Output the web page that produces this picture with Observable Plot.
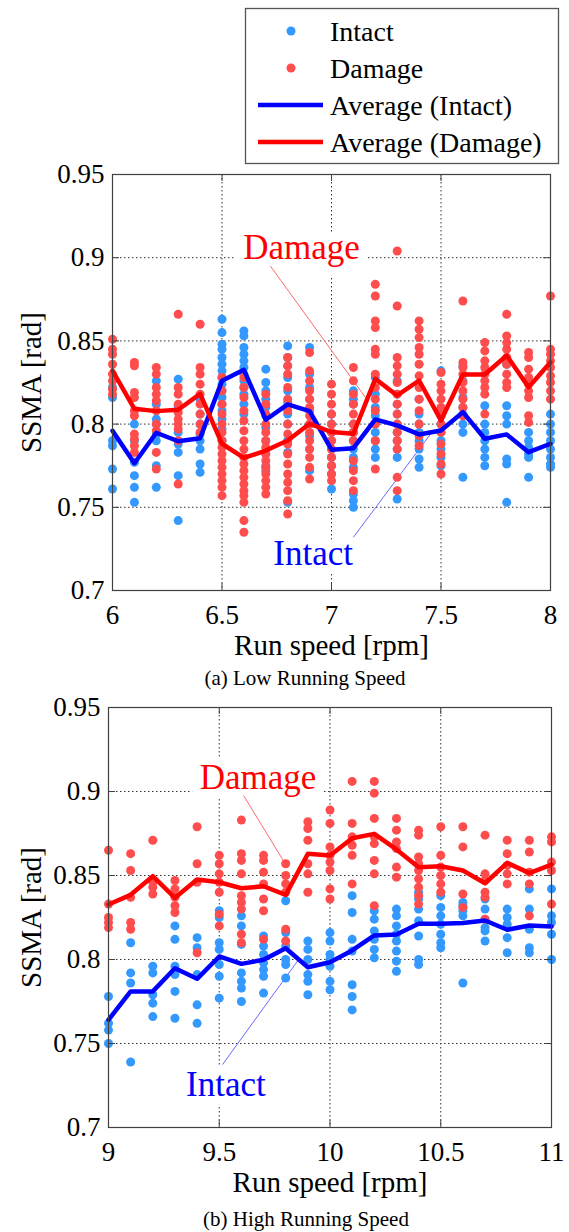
<!DOCTYPE html>
<html><head><meta charset="utf-8">
<script src="https://cdn.jsdelivr.net/npm/d3@7"></script>
<script src="https://cdn.jsdelivr.net/npm/@observablehq/plot@0.6"></script>
<style>
body{margin:0;background:#fff;}
#page{position:relative;width:569px;height:1232px;overflow:hidden;font-family:"Liberation Serif","Times New Roman",serif;}
#page > div{position:absolute;}
.cap{font-size:21px;line-height:21px;text-align:center;width:400px;color:#000;}
</style></head><body><div id="page"></div>
<script>
// ---------- DATA ----------
const seriesNames = ["Intact", "Damage", "Average (Intact)", "Average (Damage)"];
const yTicks = [0.7, 0.75, 0.8, 0.85, 0.9, 0.95];

// (a) Low running speed
const speedsLow = [6, 6.1, 6.2, 6.3, 6.4, 6.5, 6.6, 6.7, 6.8, 6.9, 7, 7.1, 7.2, 7.3, 7.4, 7.5, 7.6, 7.7, 7.8, 7.9, 8];
const xTicksLow = [6, 6.5, 7, 7.5, 8];
const intactLow = [
  [0.822, 0.816, 0.790, 0.787, 0.773, 0.761],
  [0.800, 0.790, 0.777, 0.769, 0.762, 0.753],
  [0.826, 0.812, 0.803, 0.800, 0.794, 0.790, 0.775, 0.762],
  [0.827, 0.811, 0.795, 0.788, 0.783, 0.769, 0.742],
  [0.815, 0.806, 0.800, 0.794, 0.790, 0.785, 0.776, 0.771],
  [0.863, 0.855, 0.848, 0.845, 0.840, 0.836, 0.832, 0.828, 0.824, 0.820, 0.816, 0.812, 0.808, 0.803, 0.797, 0.790],
  [0.856, 0.853, 0.846, 0.842, 0.838, 0.834, 0.830, 0.826, 0.822, 0.818, 0.812, 0.806],
  [0.833, 0.825, 0.820, 0.815, 0.810, 0.805, 0.798, 0.790, 0.782, 0.775, 0.772],
  [0.847, 0.840, 0.835, 0.828, 0.820, 0.813, 0.806, 0.800, 0.790, 0.783, 0.753],
  [0.846, 0.830, 0.822, 0.815, 0.808, 0.800, 0.793, 0.785, 0.772],
  [0.806, 0.800, 0.795, 0.790, 0.785, 0.780, 0.775, 0.770, 0.761],
  [0.820, 0.815, 0.812, 0.800, 0.795, 0.790, 0.785, 0.780, 0.774, 0.758, 0.754, 0.750],
  [0.828, 0.818, 0.810, 0.805, 0.800, 0.795, 0.790, 0.785, 0.780],
  [0.826, 0.818, 0.812, 0.806, 0.800, 0.795, 0.790, 0.785, 0.780, 0.755],
  [0.815, 0.806, 0.800, 0.795, 0.790, 0.785, 0.779, 0.774],
  [0.832, 0.806, 0.800, 0.795, 0.790, 0.785, 0.780, 0.775],
  [0.835, 0.826, 0.816, 0.810, 0.806, 0.800, 0.795, 0.768],
  [0.811, 0.800, 0.795, 0.790, 0.785, 0.780, 0.775],
  [0.836, 0.811, 0.805, 0.800, 0.779, 0.776, 0.753],
  [0.795, 0.790, 0.786, 0.782, 0.780, 0.768],
  [0.806, 0.800, 0.795, 0.790, 0.785, 0.780, 0.776, 0.774]
];
const damageLow = [
  [0.851, 0.845, 0.842, 0.836, 0.830, 0.826, 0.821, 0.818],
  [0.837, 0.835, 0.819, 0.816, 0.808, 0.805, 0.794, 0.791, 0.787, 0.783],
  [0.834, 0.830, 0.822, 0.818, 0.814, 0.808, 0.800, 0.796, 0.783, 0.773],
  [0.866, 0.822, 0.818, 0.812, 0.807, 0.803, 0.800, 0.797, 0.790, 0.764],
  [0.860, 0.834, 0.830, 0.824, 0.818, 0.812, 0.806, 0.800, 0.795],
  [0.828, 0.820, 0.812, 0.806, 0.800, 0.795, 0.790, 0.786, 0.782, 0.778, 0.774, 0.770, 0.766, 0.762, 0.757],
  [0.828, 0.822, 0.816, 0.808, 0.802, 0.796, 0.790, 0.785, 0.780, 0.776, 0.772, 0.768, 0.764, 0.760, 0.757, 0.753, 0.742, 0.735],
  [0.818, 0.812, 0.806, 0.800, 0.795, 0.790, 0.786, 0.782, 0.778, 0.774, 0.770, 0.766, 0.762, 0.758],
  [0.840, 0.835, 0.830, 0.822, 0.815, 0.808, 0.800, 0.794, 0.788, 0.782, 0.776, 0.770, 0.765, 0.760, 0.754, 0.746],
  [0.843, 0.832, 0.826, 0.820, 0.815, 0.810, 0.805, 0.800, 0.795, 0.790, 0.785, 0.780, 0.774, 0.767],
  [0.824, 0.818, 0.812, 0.806, 0.800, 0.795, 0.790, 0.785, 0.780, 0.775, 0.770, 0.766],
  [0.834, 0.826, 0.818, 0.812, 0.806, 0.800, 0.795, 0.790, 0.778, 0.772, 0.766, 0.760],
  [0.884, 0.877, 0.862, 0.858, 0.845, 0.842, 0.830, 0.822, 0.815, 0.808, 0.800, 0.790, 0.773],
  [0.904, 0.871, 0.840, 0.835, 0.830, 0.825, 0.818, 0.812, 0.806, 0.800, 0.795, 0.790, 0.785, 0.768, 0.760],
  [0.862, 0.857, 0.852, 0.846, 0.842, 0.836, 0.829, 0.822, 0.815, 0.808, 0.800, 0.793, 0.787],
  [0.831, 0.824, 0.820, 0.815, 0.810, 0.805, 0.800, 0.795, 0.788, 0.782, 0.776, 0.770],
  [0.874, 0.837, 0.834, 0.830, 0.825, 0.820, 0.815, 0.810, 0.805],
  [0.849, 0.844, 0.838, 0.834, 0.830, 0.826, 0.822, 0.818, 0.806],
  [0.866, 0.853, 0.849, 0.845, 0.840, 0.836, 0.830, 0.825, 0.822],
  [0.843, 0.840, 0.833, 0.828, 0.824, 0.820, 0.816, 0.805, 0.801],
  [0.877, 0.845, 0.842, 0.838, 0.834, 0.829, 0.825, 0.820, 0.815]
];
const avgIntactLow = [0.796, 0.7765, 0.7948, 0.7897, 0.7915, 0.826, 0.8326, 0.8026, 0.8118, 0.8078, 0.7846, 0.7855, 0.8028, 0.7992, 0.7938, 0.7962, 0.8072, 0.7912, 0.7938, 0.7831, 0.7882];
const avgDamageLow = [0.8322, 0.8092, 0.8078, 0.8086, 0.8182, 0.7882, 0.7797, 0.7841, 0.7901, 0.8002, 0.7952, 0.7942, 0.8272, 0.8172, 0.8262, 0.8022, 0.8298, 0.8298, 0.8412, 0.8222, 0.8372];

// (b) High running speed
const speedsHigh = [9, 9.1, 9.2, 9.3, 9.4, 9.5, 9.6, 9.7, 9.8, 9.9, 10, 10.1, 10.2, 10.3, 10.4, 10.5, 10.6, 10.7, 10.8, 10.9, 11];
const xTicksHigh = [9, 9.5, 10, 10.5, 11];
const intactHigh = [
  [0.778, 0.762, 0.758, 0.750],
  [0.810, 0.792, 0.786, 0.739],
  [0.796, 0.792, 0.779, 0.774, 0.766],
  [0.820, 0.812, 0.796, 0.791, 0.781, 0.765],
  [0.813, 0.807, 0.791, 0.773, 0.762],
  [0.829, 0.825, 0.810, 0.806, 0.797, 0.790, 0.777],
  [0.826, 0.820, 0.809, 0.792, 0.787, 0.783, 0.775],
  [0.814, 0.808, 0.803, 0.798, 0.794, 0.790, 0.780],
  [0.835, 0.816, 0.808, 0.800, 0.797, 0.789],
  [0.811, 0.806, 0.800, 0.791, 0.787, 0.779],
  [0.816, 0.811, 0.803, 0.800, 0.796, 0.787, 0.782],
  [0.838, 0.828, 0.812, 0.805, 0.785, 0.778, 0.770],
  [0.829, 0.824, 0.817, 0.812, 0.806, 0.801],
  [0.830, 0.826, 0.820, 0.815, 0.811, 0.805, 0.799, 0.793],
  [0.840, 0.836, 0.830, 0.823, 0.814, 0.800, 0.797],
  [0.838, 0.831, 0.826, 0.821, 0.815, 0.810, 0.807],
  [0.834, 0.832, 0.829, 0.826, 0.786],
  [0.836, 0.830, 0.824, 0.819, 0.817, 0.811],
  [0.830, 0.825, 0.821, 0.813, 0.804],
  [0.842, 0.830, 0.818, 0.807, 0.804],
  [0.842, 0.826, 0.822, 0.815, 0.800]
];
const damageHigh = [
  [0.865, 0.833, 0.825, 0.822, 0.819],
  [0.863, 0.853, 0.837, 0.822, 0.818],
  [0.871, 0.846, 0.843, 0.839],
  [0.847, 0.842, 0.837, 0.832, 0.828],
  [0.879, 0.857, 0.846, 0.804],
  [0.862, 0.857, 0.851, 0.846, 0.840, 0.827, 0.820],
  [0.883, 0.863, 0.859, 0.851, 0.838, 0.834, 0.830, 0.815, 0.810],
  [0.862, 0.859, 0.852, 0.845, 0.836, 0.829, 0.812],
  [0.857, 0.850, 0.845, 0.840, 0.818, 0.811],
  [0.882, 0.878, 0.871, 0.857, 0.851, 0.840],
  [0.889, 0.881, 0.867, 0.862, 0.858, 0.853, 0.842, 0.836],
  [0.906, 0.881, 0.873, 0.868, 0.862, 0.845],
  [0.906, 0.899, 0.884, 0.873, 0.869, 0.859, 0.851, 0.832],
  [0.884, 0.877, 0.870, 0.866, 0.855, 0.849],
  [0.877, 0.874, 0.861, 0.857, 0.853, 0.848, 0.843, 0.838, 0.833],
  [0.879, 0.862, 0.855, 0.850, 0.845, 0.840],
  [0.879, 0.867, 0.839, 0.831],
  [0.874, 0.851, 0.847, 0.840, 0.837, 0.824],
  [0.871, 0.863, 0.856, 0.851, 0.845],
  [0.871, 0.864, 0.852, 0.845, 0.826],
  [0.873, 0.870, 0.858, 0.853, 0.833]
];
const avgIntactHigh = [0.7641, 0.781, 0.781, 0.7948, 0.7885, 0.8018, 0.7974, 0.7998, 0.8067, 0.7954, 0.7984, 0.8054, 0.8143, 0.8149, 0.8213, 0.8213, 0.8217, 0.8232, 0.8177, 0.8202, 0.8196];
const avgDamageHigh = [0.8327, 0.8385, 0.8496, 0.8367, 0.8476, 0.846, 0.8424, 0.8436, 0.8385, 0.8629, 0.8619, 0.8722, 0.8748, 0.8655, 0.8549, 0.8555, 0.853, 0.8454, 0.8575, 0.8514, 0.8565];

// annotations (data coordinates)
const labelsLow = [{label: "Damage", x: 6.863, y: 0.906, kind: "D"}, {label: "Intact", x: 6.916, y: 0.722, kind: "I"}];
const leadersLow = [{x1: 6.721, y1: 0.895, x2: 7.155, y2: 0.816, kind: "D"}, {x1: 7.10, y1: 0.732, x2: 7.452, y2: 0.794, kind: "I"}];
const labelsHigh = [{label: "Damage", x: 9.675, y: 0.908, kind: "D"}, {label: "Intact", x: 9.53, y: 0.7256, kind: "I"}];
const leadersHigh = [{x1: 9.61, y1: 0.8976, x2: 9.808, y2: 0.8548, kind: "D"}, {x1: 9.515, y1: 0.7375, x2: 9.853, y2: 0.799, kind: "I"}];

// ---------- STYLE ----------
const FONT = "'Liberation Serif','Times New Roman',serif";
const C_DOT_I = "#3399ff", C_DOT_D = "#ff4d4d", C_LINE_I = "#0000ff", C_LINE_D = "#ff0000";
const C_TEXT = {I: "#0000ff", D: "#ff0000"}, C_LEAD = {I: "#6a6aff", D: "#ff6a6a"};

function panel(o) {
  const pts = [];
  o.speeds.forEach((s, i) => {
    o.intact[i].forEach(v => pts.push({speed: s, ssma: v, c: C_DOT_I}));
    o.damage[i].forEach(v => pts.push({speed: s, ssma: v, c: C_DOT_D}));
  });
  const avg = o.speeds.map((s, i) => ({speed: s, ai: o.avgI[i], ad: o.avgD[i]}));
  const x0 = o.xTicks[0], x1 = o.xTicks[o.xTicks.length - 1];
  const tickLenY = 0.0042, tickLenX = (x1 - x0) * 0.016;
  const innerX = o.xTicks.slice(1, -1), innerY = yTicks.slice(1, -1);
  const marginBottom = 72;
  return Plot.plot({
    width: 569, height: o.marginTop + o.plotH + marginBottom,
    marginTop: o.marginTop, marginBottom, marginLeft: o.marginLeft, marginRight: o.marginRight,
    x: {domain: [x0, x1], label: null},
    y: {domain: [0.7, 0.95], label: null},
    color: {type: "identity"},
    style: {fontFamily: FONT, background: "transparent", color: "#000", overflow: "visible"},
    marks: [
      Plot.ruleX(innerX, {stroke: "#333", strokeWidth: 1, strokeDasharray: "1.5,2.5"}),
      Plot.ruleY(innerY, {stroke: "#333", strokeWidth: 1, strokeDasharray: "1.5,2.5"}),
      Plot.text(o.labels, {x: "x", y: "y", text: "label", fill: d => C_TEXT[d.kind], fontSize: 35,
        stroke: "white", strokeWidth: 18, paintOrder: "stroke", textAnchor: "middle", lineAnchor: "middle"}),
      Plot.link(o.leaders, {x1: "x1", y1: "y1", x2: "x2", y2: "y2", stroke: d => C_LEAD[d.kind], strokeWidth: 1}),
      Plot.dot(pts, {x: "speed", y: "ssma", r: 4.5, fill: "c", stroke: null}),
      Plot.line(avg, {x: "speed", y: "ai", stroke: C_LINE_I, strokeWidth: 4.5}),
      Plot.line(avg, {x: "speed", y: "ad", stroke: C_LINE_D, strokeWidth: 4.5}),
      Plot.ruleX(innerX, {y1: 0.7, y2: 0.7 + tickLenY, stroke: "#404040"}),
      Plot.ruleX(innerX, {y1: 0.95, y2: 0.95 - tickLenY, stroke: "#404040"}),
      Plot.ruleY(innerY, {x1: x0, x2: x0 + tickLenX, stroke: "#404040"}),
      Plot.ruleY(innerY, {x1: x1, x2: x1 - tickLenX, stroke: "#404040"}),
      Plot.frame({stroke: "#404040", strokeWidth: 1.2}),
      Plot.axisX(o.xTicks, {anchor: "bottom", tickSize: 0, tickPadding: 14, fontSize: 27, tickFormat: d => String(d), label: null}),
      Plot.axisY(yTicks, {anchor: "left", tickSize: 0, tickPadding: 8, fontSize: 27, tickFormat: d => String(d), label: null}),
      Plot.text(["Run speed [rpm]"], {text: d => d, frameAnchor: "bottom", lineAnchor: "middle", textAnchor: "middle", dy: 55, fontSize: 29}),
      Plot.text(["SSMA [rad]"], {text: d => d, frameAnchor: "left", rotate: -90, textAnchor: "middle", lineAnchor: "middle", dx: -(o.marginLeft - 31), fontSize: 29})
    ]
  });
}

const page = document.getElementById("page");

// legend
const legendDiv = document.createElement("div");
legendDiv.style.left = "0px"; legendDiv.style.top = "0px";
const NS = "http://www.w3.org/2000/svg";
const lg = document.createElementNS(NS, "svg");
lg.setAttribute("width", 569); lg.setAttribute("height", 170);
lg.style.fontFamily = FONT;
const legendItems = [
  {name: seriesNames[0], type: "dot", color: C_DOT_I, cy: 31},
  {name: seriesNames[1], type: "dot", color: C_DOT_D, cy: 68},
  {name: seriesNames[2], type: "line", color: C_LINE_I, cy: 105},
  {name: seriesNames[3], type: "line", color: C_LINE_D, cy: 142}
];
let html = `<rect x="245.5" y="8.5" width="313" height="155" fill="white" stroke="#555" stroke-width="1.3"/>`;
legendItems.forEach(it => {
  if (it.type === "dot") html += `<circle cx="291" cy="${it.cy}" r="4.5" fill="${it.color}"/>`;
  else html += `<line x1="258" x2="323" y1="${it.cy}" y2="${it.cy}" stroke="${it.color}" stroke-width="4.5"/>`;
  html += `<text x="330" y="${it.cy + 10}" font-size="28" fill="#000">${it.name}</text>`;
});
lg.innerHTML = html;
legendDiv.appendChild(lg);
page.appendChild(legendDiv);

function place(el, top, left = 0) {
  const d = document.createElement("div");
  d.style.top = top + "px"; d.style.left = left + "px";
  d.appendChild(el);
  page.appendChild(d);
  return d;
}

place(panel({speeds: speedsLow, intact: intactLow, damage: damageLow, avgI: avgIntactLow, avgD: avgDamageLow,
  xTicks: xTicksLow, marginTop: 10, plotH: 416, marginLeft: 112, marginRight: 19, labels: labelsLow, leaders: leadersLow}), 164);

const capA = document.createElement("div");
capA.className = "cap"; capA.textContent = "(a) Low Running Speed";
capA.style.left = "105px"; capA.style.top = "668px";
page.appendChild(capA);

place(panel({speeds: speedsHigh, intact: intactHigh, damage: damageHigh, avgI: avgIntactHigh, avgD: avgDamageHigh,
  xTicks: xTicksHigh, marginTop: 12, plotH: 420, marginLeft: 108, marginRight: 18, labels: labelsHigh, leaders: leadersHigh}), 695);

const capB = document.createElement("div");
capB.className = "cap"; capB.textContent = "(b) High Running Speed";
capB.style.left = "106px"; capB.style.top = "1209px";
page.appendChild(capB);
</script>
</body></html>
